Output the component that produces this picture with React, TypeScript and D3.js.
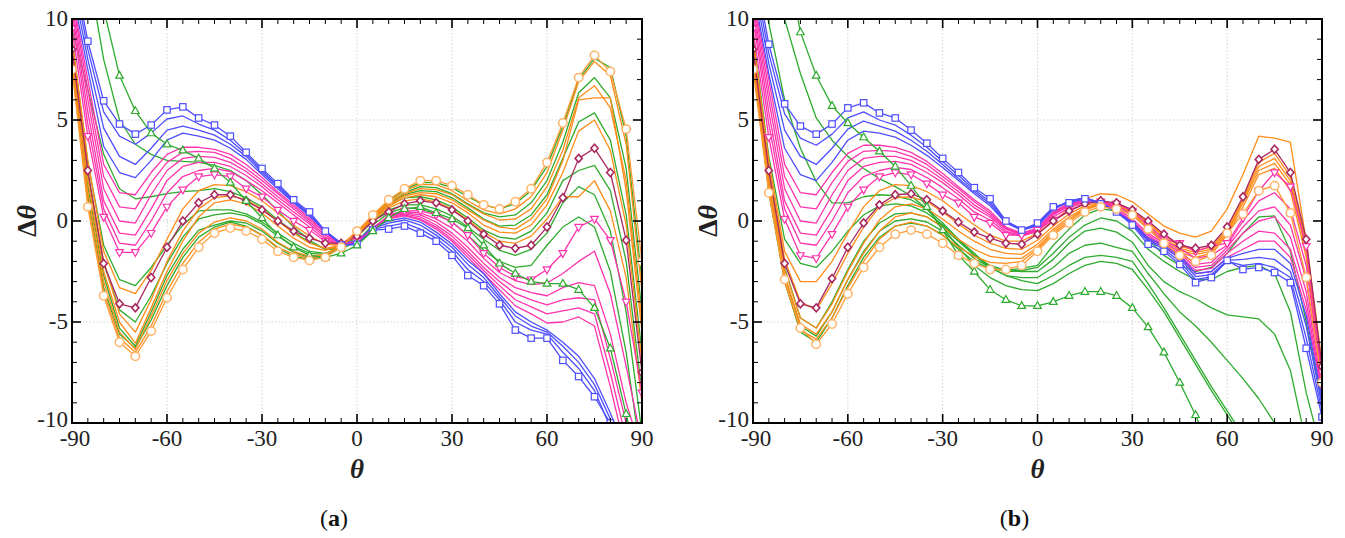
import React from 'react';
import * as d3 from 'd3';

const THETA = [-90, -85, -80, -75, -70, -65, -60, -55, -50, -45, -40, -35, -30, -25, -20, -15, -10, -5, 0, 5, 10, 15, 20, 25, 30, 35, 40, 45, 50, 55, 60, 65, 70, 75, 80, 85, 90];
const X_TICKS = [-90, -60, -30, 0, 30, 60, 90];
const Y_TICKS = [-10, -5, 0, 5, 10];
const X_TICK_LABELS = ['-90', '-60', '-30', '0', '30', '60', '90'];
const Y_TICK_LABELS = ['-10', '-5', '0', '5', '10'];

// ---------- panel (a) ----------
const A_BLUE_SQ = [13, 8.9, 5.95, 4.8, 4.3, 4.75, 5.5, 5.65, 5.1, 4.75, 4.2, 3.4, 2.6, 1.85, 1.05, 0.45, -0.5, -1.2, -1.15, -0.45, -0.4, -0.25, -0.6, -1.0, -1.7, -2.7, -3.2, -4.1, -5.4, -5.8, -5.8, -6.9, -7.7, -8.7, -10, -12, -14];
const A_BLUE_1 = [12.5, 8.5, 5.4, 4.2, 3.8, 4.35, 5.05, 5.2, 4.8, 4.5, 4.0, 3.3, 2.5, 1.75, 1.0, 0.35, -0.5, -1.15, -1.1, -0.4, -0.25, -0.1, -0.4, -0.85, -1.5, -2.4, -3.0, -3.9, -5.0, -5.4, -5.6, -6.5, -7.3, -8.4, -10.2, -12, -14];
const A_BLUE_2 = [12, 8.0, 4.6, 3.2, 2.8, 3.6, 4.5, 4.7, 4.5, 4.25, 3.8, 3.2, 2.4, 1.7, 0.95, 0.3, -0.5, -1.1, -1.05, -0.35, -0.1, 0.05, -0.2, -0.7, -1.3, -2.15, -2.8, -3.75, -4.7, -5.2, -5.5, -6.2, -7.0, -8.1, -9.8, -11.8, -13.8];
const A_BLUE_3 = [11.5, 7.5, 3.7, 2.4, 2.15, 3.0, 4.0, 4.35, 4.2, 4.0, 3.6, 3.05, 2.3, 1.6, 0.9, 0.25, -0.5, -1.1, -1.0, -0.3, 0.0, 0.15, -0.05, -0.55, -1.15, -1.95, -2.6, -3.6, -4.5, -5.0, -5.4, -6.0, -6.7, -7.8, -9.5, -11.5, -13.5];
const A_PINK_0 = [11.2, 7.0, 2.8, 1.4, 1.3, 2.4, 3.3, 3.65, 3.65, 3.55, 3.3, 2.8, 2.15, 1.45, 0.8, 0.15, -0.55, -1.1, -1.0, -0.35, 0.1, 0.25, 0.05, -0.4, -1.0, -1.8, -2.6, -3.4, -4.2, -4.6, -5.05, -5.0, -4.75, -5.2, -8.2, -11.5, -13];
const A_PINK_1 = [11, 6.5, 2.2, 0.7, 0.6, 1.9, 2.9, 3.4, 3.45, 3.4, 3.1, 2.6, 2.0, 1.35, 0.7, 0.05, -0.6, -1.15, -1.0, -0.35, 0.15, 0.3, 0.1, -0.3, -0.9, -1.65, -2.45, -3.2, -3.9, -4.25, -4.6, -4.45, -4.3, -4.6, -7.5, -10.8, -12.5];
const A_PINK_2 = [10.7, 6.0, 1.6, 0.0, -0.1, 1.3, 2.5, 3.1, 3.2, 3.15, 2.9, 2.45, 1.85, 1.2, 0.6, -0.05, -0.7, -1.15, -1.0, -0.35, 0.2, 0.35, 0.2, -0.2, -0.75, -1.5, -2.3, -3.0, -3.6, -3.9, -4.15, -3.9, -3.8, -3.9, -6.8, -10, -12];
const A_PINK_3 = [10.4, 5.4, 1.0, -0.6, -0.7, 0.6, 2.0, 2.7, 2.9, 2.9, 2.7, 2.25, 1.7, 1.05, 0.45, -0.15, -0.8, -1.2, -1.0, -0.35, 0.25, 0.4, 0.3, -0.05, -0.6, -1.3, -2.1, -2.8, -3.3, -3.55, -3.7, -3.3, -3.05, -3.2, -5.6, -9, -11.5];
const A_PINK_4 = [10.1, 4.8, 0.6, -1.1, -1.2, 0.0, 1.4, 2.2, 2.5, 2.6, 2.45, 2.0, 1.5, 0.9, 0.3, -0.3, -0.9, -1.2, -1.0, -0.4, 0.25, 0.45, 0.4, 0.1, -0.35, -1.0, -1.85, -2.55, -2.95, -3.15, -3.07, -2.6, -2.0, -1.5, -3.6, -7.2, -11];
const A_PINK_TRI = [9.5, 4.2, 0.2, -1.55, -1.55, -0.6, 0.7, 1.55, 2.2, 2.3, 2.2, 1.6, 1.2, 0.55, 0, -0.45, -1.0, -1.2, -1.0, -0.4, 0.3, 0.5, 0.5, 0.3, -0.05, -0.7, -1.6, -2.3, -2.75, -2.9, -2.4, -1.6, -0.3, 0.1, -0.95, -4.0, -8.5];
const A_PURPLE = [8.5, 2.5, -2.1, -4.1, -4.3, -2.8, -1.3, 0, 0.9, 1.3, 1.3, 1.0, 0.55, 0, -0.5, -0.85, -1.1, -1.1, -0.75, 0, 0.45, 0.85, 1.0, 0.9, 0.55, 0, -0.65, -1.2, -1.35, -1.2, -0.3, 1.15, 3.1, 3.6, 2.4, -0.95, -7.5];
const A_ORANGE_CIRC = [7.5, 0.7, -3.7, -6.0, -6.7, -5.45, -3.8, -2.4, -1.3, -0.6, -0.35, -0.5, -0.9, -1.5, -1.8, -1.95, -1.8, -1.3, -0.5, 0.3, 1.05, 1.6, 2.0, 2.0, 1.75, 1.3, 0.8, 0.6, 0.95, 1.6, 2.9, 4.85, 7.1, 8.2, 7.4, 4.55, -2];
const A_GREEN_TRI = [20, 15, 10.5, 7.2, 5.45, 4.35, 3.8, 3.5, 3.1, 2.6, 1.9, 1.0, 0.15, -0.7, -1.3, -1.7, -1.8, -1.6, -1.2, -0.5, 0.15, 0.6, 0.7, 0.4, 0.1, -0.35, -1.2, -2.1, -2.6, -3.0, -3.1, -3.1, -3.4, -4.3, -6.3, -9.55, -13];
const A_ORANGE_E = [7.7, 0.9, -3.5, -5.8, -6.5, -5.2, -3.5, -2.1, -1.05, -0.4, -0.15, -0.3, -0.7, -1.3, -1.65, -1.85, -1.7, -1.2, -0.5, 0.25, 0.95, 1.5, 1.8, 1.8, 1.5, 1.0, 0.55, 0.35, 0.6, 1.2, 2.4, 4.5, 6.9, 7.9, 7.2, 3.8, -3.5];
const A_GREEN_F = [7.9, 1.2, -3.3, -5.6, -6.3, -4.9, -3.2, -1.8, -0.8, -0.3, -0.05, -0.25, -0.7, -1.35, -1.75, -1.9, -1.75, -1.25, -0.55, 0.25, 1.0, 1.55, 1.9, 1.9, 1.65, 1.2, 0.8, 0.6, 0.85, 1.5, 2.7, 4.7, 7.0, 8.05, 7.6, 4.2, -3];
const A_ORANGE_D = [8.0, 1.4, -3.0, -5.5, -6.35, -4.7, -2.95, -1.6, -0.6, -0.05, 0.15, 0.0, -0.4, -1.05, -1.5, -1.75, -1.65, -1.2, -0.55, 0.2, 0.9, 1.35, 1.6, 1.55, 1.3, 0.8, 0.35, 0.05, 0.1, 0.6, 1.7, 3.5, 6.1, 6.7, 5.6, 2.0, -5];
const A_GREEN_E = [8.2, 1.7, -2.7, -5.3, -6.2, -4.5, -2.7, -1.4, -0.45, -0.2, 0.0, -0.1, -0.5, -1.1, -1.55, -1.8, -1.7, -1.25, -0.6, 0.2, 0.85, 1.4, 1.7, 1.65, 1.35, 0.85, 0.4, 0.2, 0.3, 0.9, 2.0, 3.9, 6.35, 7.1, 6.1, 2.6, -4.5];
const A_ORANGE_C = [8.4, 2.0, -2.5, -5.0, -6.05, -4.3, -2.5, -1.0, 0.2, 0.9, 1.05, 0.85, 0.4, -0.25, -0.85, -1.3, -1.45, -1.2, -0.6, 0.15, 0.8, 1.25, 1.4, 1.35, 1.05, 0.55, 0.05, -0.3, -0.4, 0.1, 1.1, 3.0, 6.0, 6.1, 6.1, 1.5, -5.5];
const A_GREEN_D = [8.6, 2.3, -2.1, -4.4, -5.0, -3.7, -2.1, -0.8, 0.1, 0.3, 0.4, 0.25, -0.15, -0.75, -1.25, -1.6, -1.65, -1.3, -0.65, 0.15, 0.85, 1.3, 1.5, 1.45, 1.15, 0.65, 0.1, -0.25, -0.2, 0.3, 1.3, 3.1, 4.9, 5.35, 4.0, 0.3, -6.5];
const A_ORANGE_B = [8.8, 2.4, -2.0, -4.6, -5.5, -3.9, -2.0, -0.5, 0.6, 1.15, 1.25, 1.05, 0.6, 0.0, -0.6, -1.1, -1.35, -1.2, -0.65, 0.1, 0.75, 1.15, 1.3, 1.2, 0.9, 0.4, -0.2, -0.55, -0.6, -0.2, 0.8, 2.4, 4.45, 5.0, 3.5, -0.2, -7];
const A_GREEN_C = [9.0, 2.9, -1.2, -2.9, -3.2, -2.3, -1.2, -0.2, 0.5, 0.55, 0.55, 0.35, -0.05, -0.6, -1.1, -1.5, -1.6, -1.3, -0.7, 0.1, 0.75, 1.15, 1.2, 1.05, 0.7, 0.15, -0.45, -0.8, -0.9, -0.5, 0.4, 2.0, 2.5, 2.75, 1.5, -2.0, -8.5];
const A_ORANGE_A = [9.0, 3.0, -1.5, -3.3, -3.6, -2.45, -0.9, 0.6, 1.5, 1.8, 1.75, 1.45, 1.0, 0.4, -0.2, -0.75, -1.15, -1.2, -0.75, 0.05, 0.65, 1.0, 1.1, 0.95, 0.6, 0.05, -0.55, -1.0, -1.1, -0.75, 0.1, 1.2, 1.2, 2.0, 0.5, -2.8, -9];
const A_GREEN_B = [9.5, 6.5, 3.3, 1.6, 1.1, 1.2, 1.35, 1.45, 1.5, 1.6, 1.45, 1.15, 0.7, 0.05, -0.55, -1.05, -1.4, -1.3, -0.8, 0.0, 0.55, 0.8, 0.8, 0.6, 0.25, -0.3, -0.9, -1.45, -1.7, -1.4, -0.6, 0.9, 1.7, 1.3, -0.5, -4.5, -10.5];
const A_GREEN_A = [13, 12.5, 8.0, 5.0, 3.8, 3.3, 3.0, 2.95, 2.9, 2.75, 2.5, 2.0, 1.3, 0.5, -0.3, -0.95, -1.4, -1.4, -1.0, -0.2, 0.4, 0.65, 0.6, 0.35, -0.05, -0.7, -1.45, -2.0, -2.3, -2.2, -1.2, -0.3, 0.2, -0.3, -2.5, -6.5, -12];

// ---------- panel (b) ----------
const B_BLUE_SQ = [13, 8.75, 5.8, 4.7, 4.3, 4.8, 5.6, 5.85, 5.35, 5.1, 4.5, 3.85, 3.1, 2.4, 1.65, 1.1, 0.0, -0.45, -0.1, 0.7, 0.9, 1.1, 0.85, 0.45, -0.2, -1.15, -1.5, -2.15, -3.05, -2.8, -1.95, -2.4, -2.3, -2.55, -3.05, -6.3, -9.7];
const B_BLUE_1 = [12.5, 8.3, 5.3, 4.1, 3.75, 4.3, 5.1, 5.4, 5.0, 4.75, 4.25, 3.65, 2.95, 2.25, 1.55, 0.95, 0.0, -0.4, -0.15, 0.65, 0.95, 1.15, 0.9, 0.45, -0.15, -1.0, -1.4, -2.0, -2.9, -2.75, -2.0, -2.2, -2.1, -2.3, -2.8, -5.8, -9.4];
const B_BLUE_2 = [12, 7.8, 4.5, 3.2, 2.8, 3.6, 4.55, 4.95, 4.7, 4.45, 4.0, 3.45, 2.8, 2.1, 1.45, 0.85, -0.05, -0.4, -0.2, 0.6, 1.0, 1.15, 0.9, 0.45, -0.1, -0.95, -1.3, -1.85, -2.75, -2.65, -1.95, -1.9, -1.8, -1.9, -2.5, -5.2, -9.1];
const B_BLUE_3 = [11.5, 7.3, 3.6, 2.3, 2.0, 2.9, 4.0, 4.45, 4.35, 4.15, 3.75, 3.25, 2.65, 2.0, 1.35, 0.75, -0.1, -0.45, -0.25, 0.55, 1.0, 1.15, 0.9, 0.45, -0.05, -0.85, -1.2, -1.7, -2.6, -2.5, -1.85, -1.6, -1.4, -1.4, -2.1, -4.7, -8.8];
const B_PINK_0 = [11.2, 7.0, 2.8, 1.4, 1.3, 2.4, 3.35, 3.75, 3.75, 3.65, 3.4, 2.95, 2.35, 1.7, 1.05, 0.5, -0.3, -0.6, -0.35, 0.45, 0.9, 1.1, 0.9, 0.45, -0.1, -0.9, -1.3, -1.8, -2.6, -2.5, -1.8, -1.4, -1.0, -1.0, -1.8, -4.4, -8.6];
const B_PINK_1 = [11, 6.5, 2.2, 0.7, 0.6, 1.9, 2.95, 3.45, 3.5, 3.45, 3.2, 2.8, 2.2, 1.6, 0.95, 0.4, -0.35, -0.65, -0.4, 0.4, 0.85, 1.05, 0.9, 0.5, -0.05, -0.8, -1.25, -1.7, -2.45, -2.35, -1.6, -1.0, -0.5, -0.6, -1.4, -4.0, -8.4];
const B_PINK_2 = [10.7, 6.0, 1.6, 0.0, -0.1, 1.3, 2.5, 3.1, 3.2, 3.2, 3.0, 2.6, 2.05, 1.45, 0.8, 0.3, -0.4, -0.7, -0.45, 0.35, 0.8, 1.0, 0.9, 0.55, 0.0, -0.7, -1.2, -1.6, -2.3, -2.2, -1.45, -0.6, 0.0, 0.2, -0.8, -3.5, -8.2];
const B_PINK_3 = [10.4, 5.4, 1.0, -0.6, -0.7, 0.6, 2.0, 2.7, 2.9, 2.95, 2.8, 2.4, 1.9, 1.3, 0.65, 0.2, -0.5, -0.75, -0.5, 0.3, 0.75, 1.0, 0.95, 0.65, 0.1, -0.6, -1.1, -1.5, -2.15, -2.05, -1.3, -0.3, 0.5, 0.7, -0.2, -2.9, -8.0];
const B_PINK_4 = [10.1, 4.8, 0.6, -1.1, -1.2, 0.0, 1.4, 2.2, 2.5, 2.65, 2.55, 2.15, 1.65, 1.1, 0.45, 0.05, -0.6, -0.75, -0.5, 0.2, 0.65, 0.95, 0.95, 0.75, 0.3, -0.4, -1.0, -1.35, -1.85, -1.7, -1.2, 0.0, 1.0, 1.4, 0.6, -2.2, -7.8];
const B_PINK_TRI = [9.5, 4.15, 0.1, -1.7, -1.85, -0.65, 0.7, 1.55, 2.2, 2.4, 2.3, 1.85, 1.3, 0.9, 0.2, -0.1, -0.7, -0.7, -0.45, 0.05, 0.5, 0.9, 0.95, 0.85, 0.5, -0.2, -0.9, -1.1, -1.5, -1.25, -1.1, 0.15, 1.5, 2.4, 1.7, -1.25, -7.5];
const B_PURPLE = [8.5, 2.5, -2.1, -4.1, -4.3, -2.85, -1.3, -0.1, 0.8, 1.3, 1.35, 1.05, 0.5, -0.05, -0.55, -0.85, -1.1, -1.15, -0.65, 0, 0.5, 0.85, 1.0, 0.9, 0.55, 0, -0.65, -1.2, -1.35, -1.2, -0.3, 1.2, 3.05, 3.55, 2.4, -0.9, -7.2];
const B_ORANGE_CIRC = [7.5, 1.4, -2.9, -5.3, -6.1, -5.1, -3.6, -2.3, -1.3, -0.65, -0.45, -0.65, -1.1, -1.7, -2.1, -2.4, -2.4, -2.2, -1.5, -0.7, -0.1, 0.45, 0.7, 0.6, 0.3, -0.4, -1.1, -1.7, -2.0, -1.7, -0.6, 0.35, 1.5, 1.75, 0.4, -2.8, -8];
const B_ORANGE_1 = [9.0, 3.0, -1.5, -3.0, -3.0, -2.0, -0.6, 0.7, 1.5, 1.8, 1.75, 1.45, 1.0, 0.4, -0.2, -0.7, -1.0, -1.0, -0.6, 0.0, 0.6, 1.1, 1.35, 1.3, 0.95, 0.35, -0.25, -0.6, -0.8, -0.5, 0.6, 2.3, 4.2, 4.1, 3.9, -1.0, -7];
const B_ORANGE_2 = [8.8, 2.7, -1.9, -4.0, -4.4, -3.1, -1.6, -0.3, 0.7, 1.15, 1.2, 0.95, 0.45, -0.15, -0.7, -1.1, -1.35, -1.4, -0.95, -0.25, 0.35, 0.75, 0.95, 0.85, 0.5, -0.05, -0.7, -1.25, -1.45, -1.3, -0.4, 1.1, 2.9, 3.35, 2.2, -1.1, -7.4];
const B_ORANGE_3 = [8.4, 2.2, -2.4, -4.8, -5.3, -4.1, -2.5, -1.1, 0.05, 0.7, 0.85, 0.6, 0.1, -0.5, -1.0, -1.4, -1.6, -1.65, -1.15, -0.4, 0.2, 0.65, 0.9, 0.8, 0.45, -0.1, -0.8, -1.35, -1.55, -1.4, -0.5, 1.0, 2.7, 3.1, 2.0, -1.3, -7.6];
const B_ORANGE_4 = [8.1, 1.9, -2.7, -5.1, -5.6, -4.5, -2.9, -1.6, -0.5, 0.2, 0.4, 0.2, -0.3, -0.9, -1.4, -1.75, -1.85, -1.85, -1.3, -0.5, 0.1, 0.6, 0.85, 0.75, 0.4, -0.2, -0.9, -1.45, -1.65, -1.5, -0.6, 0.9, 2.5, 2.85, 1.8, -1.5, -7.8];
const B_ORANGE_5 = [7.8, 1.6, -3.0, -5.4, -5.85, -4.8, -3.3, -2.0, -0.9, -0.25, -0.05, -0.25, -0.7, -1.3, -1.75, -2.05, -2.1, -2.0, -1.4, -0.6, 0.0, 0.55, 0.8, 0.7, 0.35, -0.3, -1.0, -1.55, -1.8, -1.6, -0.7, 0.7, 2.3, 2.6, 1.5, -1.8, -8];
const B_GREEN_0 = [8.0, 1.4, -3.0, -5.5, -6.0, -4.8, -3.2, -1.8, -0.8, -0.25, -0.1, -0.25, -0.7, -1.4, -2.0, -2.35, -2.45, -2.35, -2.2, -1.2, -0.4, 0.3, 0.6, 0.5, -0.05, -0.9, -1.7, -2.2, -2.5, -2.3, -1.6, -0.6, 0.2, 0.25, -1.5, -5, -9];
const B_GREEN_1 = [8.2, 1.7, -2.8, -5.2, -5.7, -4.5, -2.9, -1.5, -0.5, 0.0, 0.1, -0.05, -0.5, -1.2, -1.85, -2.3, -2.5, -2.45, -2.3, -1.6, -0.8, -0.2, 0.15, 0.0, -0.5, -1.4, -2.0, -2.5, -2.9, -2.9, -2.5, -2.3, -2.2, -2.6, -4.5, -8.5, -11.5];
const B_GREEN_2 = [8.6, 2.2, -2.3, -4.8, -5.3, -4.0, -2.4, -1.0, -0.1, 0.35, 0.4, 0.2, -0.3, -1.0, -1.7, -2.2, -2.45, -2.5, -2.5, -1.9, -1.1, -0.5, -0.35, -0.55, -1.05, -2.2, -3.0, -3.5, -3.85, -4.3, -4.65, -4.75, -4.85, -5.6, -7.4, -11, -13];
const B_GREEN_3 = [9.2, 3.2, -0.9, -2.1, -2.3, -1.5, -0.5, 0.3, 0.75, 0.85, 0.75, 0.4, -0.2, -0.9, -1.6, -2.3, -2.7, -2.8, -2.8, -2.3, -1.6, -1.2, -1.1, -1.3, -1.5, -2.6, -3.6, -4.5, -5.2, -6.0, -6.9, -7.8, -8.8, -10, -11.5, -13, -14];
const B_GREEN_4 = [14, 9.8, 6.0, 3.6, 1.95, 0.9, 0.9, 1.2, 1.3, 1.25, 1.05, 0.6, -0.1, -0.9, -1.7, -2.3, -2.7, -2.95, -3.1, -2.7, -2.2, -1.8, -1.7, -1.8, -2.0, -3.1, -4.3, -5.6, -6.9, -8.2, -9.4, -10.6, -12, -13, -14, -15, -16];
const B_GREEN_5 = [16, 12.5, 10, 7.3, 5.1, 4.0, 3.2, 2.6, 2.1, 1.7, 1.25, 0.6, -0.3, -1.3, -2.2, -2.8, -3.2, -3.4, -3.45, -3.1, -2.6, -2.2, -2.0, -2.1, -2.4, -3.4, -4.5, -5.8, -7.1, -8.4, -9.6, -10.8, -12, -13, -14, -15, -16];
const B_GREEN_TRI = [25, 18, 13.5, 9.35, 7.2, 5.7, 4.85, 4.15, 3.45, 2.7, 1.75, 0.7, -0.45, -1.7, -2.5, -3.4, -3.9, -4.2, -4.2, -4.0, -3.7, -3.5, -3.5, -3.7, -4.3, -5.25, -6.5, -8.0, -9.6, -11.5, -13, -14, -15, -16, -17, -18, -19];

type Kind = 'blue' | 'pink' | 'green' | 'orange' | 'blueSq' | 'pinkTri' | 'purple' | 'orangeCirc' | 'greenTri';
interface Series { kind: Kind; values: number[] }

const SERIES_A: Series[] = [
  { kind: 'green', values: A_GREEN_A }, { kind: 'green', values: A_GREEN_B }, { kind: 'green', values: A_GREEN_C },
  { kind: 'green', values: A_GREEN_D }, { kind: 'green', values: A_GREEN_E }, { kind: 'green', values: A_GREEN_F },
  { kind: 'orange', values: A_ORANGE_A }, { kind: 'orange', values: A_ORANGE_B }, { kind: 'orange', values: A_ORANGE_C },
  { kind: 'orange', values: A_ORANGE_D }, { kind: 'orange', values: A_ORANGE_E },
  { kind: 'pink', values: A_PINK_0 }, { kind: 'pink', values: A_PINK_1 }, { kind: 'pink', values: A_PINK_2 },
  { kind: 'pink', values: A_PINK_3 }, { kind: 'pink', values: A_PINK_4 },
  { kind: 'blue', values: A_BLUE_1 }, { kind: 'blue', values: A_BLUE_2 }, { kind: 'blue', values: A_BLUE_3 },
  { kind: 'pinkTri', values: A_PINK_TRI }, { kind: 'purple', values: A_PURPLE }, { kind: 'blueSq', values: A_BLUE_SQ },
  { kind: 'greenTri', values: A_GREEN_TRI }, { kind: 'orangeCirc', values: A_ORANGE_CIRC },
];

const SERIES_B: Series[] = [
  { kind: 'green', values: B_GREEN_0 }, { kind: 'green', values: B_GREEN_1 }, { kind: 'green', values: B_GREEN_2 },
  { kind: 'green', values: B_GREEN_3 }, { kind: 'green', values: B_GREEN_4 }, { kind: 'green', values: B_GREEN_5 },
  { kind: 'orange', values: B_ORANGE_1 }, { kind: 'orange', values: B_ORANGE_2 }, { kind: 'orange', values: B_ORANGE_3 },
  { kind: 'orange', values: B_ORANGE_4 }, { kind: 'orange', values: B_ORANGE_5 },
  { kind: 'pink', values: B_PINK_0 }, { kind: 'pink', values: B_PINK_1 }, { kind: 'pink', values: B_PINK_2 },
  { kind: 'pink', values: B_PINK_3 }, { kind: 'pink', values: B_PINK_4 },
  { kind: 'blue', values: B_BLUE_1 }, { kind: 'blue', values: B_BLUE_2 }, { kind: 'blue', values: B_BLUE_3 },
  { kind: 'pinkTri', values: B_PINK_TRI }, { kind: 'purple', values: B_PURPLE }, { kind: 'blueSq', values: B_BLUE_SQ },
  { kind: 'greenTri', values: B_GREEN_TRI }, { kind: 'orangeCirc', values: B_ORANGE_CIRC },
];

const LINE_COLOR: Record<Kind, string> = {
  blue: '#4e4eff', pink: '#ff33ad', green: '#2eab2e', orange: '#ff8c1a',
  blueSq: '#4e4eff', pinkTri: '#ff33ad', purple: '#a8285f', orangeCirc: '#ff9a33', greenTri: '#2eab2e',
};

const FONT = '"Liberation Serif", "DejaVu Serif", serif';

function Marker({ kind, cx, cy }: { kind: Kind; cx: number; cy: number }) {
  const c = LINE_COLOR[kind];
  if (kind === 'blueSq') return <rect x={cx - 3.2} y={cy - 3.2} width={6.4} height={6.4} fill="#fff" stroke={c} strokeWidth={1.2} />;
  if (kind === 'greenTri') return <path d={`M${cx},${cy - 4.2}L${cx + 3.8},${cy + 2.6}L${cx - 3.8},${cy + 2.6}Z`} fill="#fff" stroke={c} strokeWidth={1.2} />;
  if (kind === 'pinkTri') return <path d={`M${cx},${cy + 4.2}L${cx + 3.8},${cy - 2.6}L${cx - 3.8},${cy - 2.6}Z`} fill="#fff" stroke={c} strokeWidth={1.2} />;
  if (kind === 'purple') return <path d={`M${cx},${cy - 4}L${cx + 3.6},${cy}L${cx},${cy + 4}L${cx - 3.6},${cy}Z`} fill="#fff" stroke={c} strokeWidth={1.6} />;
  if (kind === 'orangeCirc') return <circle cx={cx} cy={cy} r={4.2} fill="#fff" stroke="#ffb469" strokeWidth={1.5} />;
  return null;
}

const Y_TOP = 19;
const Y_BOT = 423;

function Panel({ x0, x1, id, caption, series }: { x0: number; x1: number; id: string; caption: string; series: Series[] }) {
  const x = d3.scaleLinear().domain([-90, 90]).range([x0, x1]);
  const y = d3.scaleLinear().domain([-10, 10]).range([Y_BOT, Y_TOP]);
  const line = d3.line<number>().x((_, i) => x(THETA[i])).y((d) => y(d));
  const xMinor = d3.range(-90, 91, 5);
  const yMinor = d3.range(-10, 11, 1);
  const marked: Kind[] = ['blueSq', 'pinkTri', 'purple', 'orangeCirc', 'greenTri'];
  return (
    <g>
      <defs>
        <clipPath id={id}>
          <rect x={x0} y={Y_TOP} width={x1 - x0} height={Y_BOT - Y_TOP} />
        </clipPath>
      </defs>
      {X_TICKS.slice(1, -1).map((t) => (
        <line key={'gx' + t} x1={x(t)} x2={x(t)} y1={Y_TOP} y2={Y_BOT} stroke="#c8c8c8" strokeWidth={0.8} strokeDasharray="1.5,2" />
      ))}
      {Y_TICKS.slice(1, -1).map((t) => (
        <line key={'gy' + t} x1={x0} x2={x1} y1={y(t)} y2={y(t)} stroke="#c8c8c8" strokeWidth={0.8} strokeDasharray="1.5,2" />
      ))}
      <g clipPath={`url(#${id})`}>
        {series.map((s, i) => (
          <path key={'l' + i} d={line(s.values) || ''} fill="none" stroke={LINE_COLOR[s.kind]} strokeWidth={1.3} strokeLinejoin="round" />
        ))}
        {series.filter((s) => marked.includes(s.kind)).map((s, i) => (
          <g key={'m' + i}>
            {s.values.map((v, j) => (
              <Marker key={j} kind={s.kind} cx={x(THETA[j])} cy={y(v)} />
            ))}
          </g>
        ))}
      </g>
      {xMinor.map((t) => {
        const major = X_TICKS.includes(t);
        const len = major ? 9 : 5;
        return (
          <g key={'tx' + t}>
            <line x1={x(t)} x2={x(t)} y1={Y_BOT} y2={Y_BOT - len} stroke="#000" strokeWidth={major ? 1.6 : 1} />
            <line x1={x(t)} x2={x(t)} y1={Y_TOP} y2={Y_TOP + len} stroke="#000" strokeWidth={major ? 1.6 : 1} />
          </g>
        );
      })}
      {yMinor.map((t) => {
        const major = Y_TICKS.includes(t);
        const len = major ? 9 : 5;
        return (
          <g key={'ty' + t}>
            <line x1={x0} x2={x0 + len} y1={y(t)} y2={y(t)} stroke="#000" strokeWidth={major ? 1.6 : 1} />
            <line x1={x1} x2={x1 - len} y1={y(t)} y2={y(t)} stroke="#000" strokeWidth={major ? 1.6 : 1} />
          </g>
        );
      })}
      <rect x={x0} y={Y_TOP} width={x1 - x0} height={Y_BOT - Y_TOP} fill="none" stroke="#000" strokeWidth={2} />
      {X_TICKS.map((t, i) => (
        <text key={'xl' + t} x={x(t) + (i === 0 ? 3 : 0)} y={446} textAnchor="middle" fontFamily={FONT} fontSize={23} fill="#222">{X_TICK_LABELS[i]}</text>
      ))}
      {Y_TICKS.map((t, i) => (
        <text key={'yl' + t} x={x0 - 4} y={y(t) + 7 - (i === 0 ? 3 : 0)} textAnchor="end" fontFamily={FONT} fontSize={23} fill="#222">{Y_TICK_LABELS[i]}</text>
      ))}
      <text x={(x0 + x1) / 2} y={478} textAnchor="middle" fontFamily={FONT} fontSize={27} fontWeight="bold" fontStyle="italic" fill="#222">θ</text>
      <text transform={`translate(${x0 - 36},${y(0)}) rotate(-90)`} textAnchor="middle" fontFamily={FONT} fontSize={28} fontWeight="bold" fill="#222">
        Δ<tspan fontStyle="italic">θ</tspan>
      </text>
      <text x={(x0 + x1) / 2 - 23} y={526} textAnchor="middle" fontFamily={FONT} fontSize={24} fill="#111">
        (<tspan fontWeight="bold">{caption}</tspan>)
      </text>
    </g>
  );
}

export default function App() {
  return (
    <svg width={1345} height={538} viewBox="0 0 1345 538" style={{ position: 'absolute', left: 0, top: 0, background: '#fff' }}>
      <rect width={1345} height={538} fill="#fff" />
      <Panel x0={72} x1={642} id="clipA" caption="a" series={SERIES_A} />
      <Panel x0={753} x1={1322} id="clipB" caption="b" series={SERIES_B} />
    </svg>
  );
}
